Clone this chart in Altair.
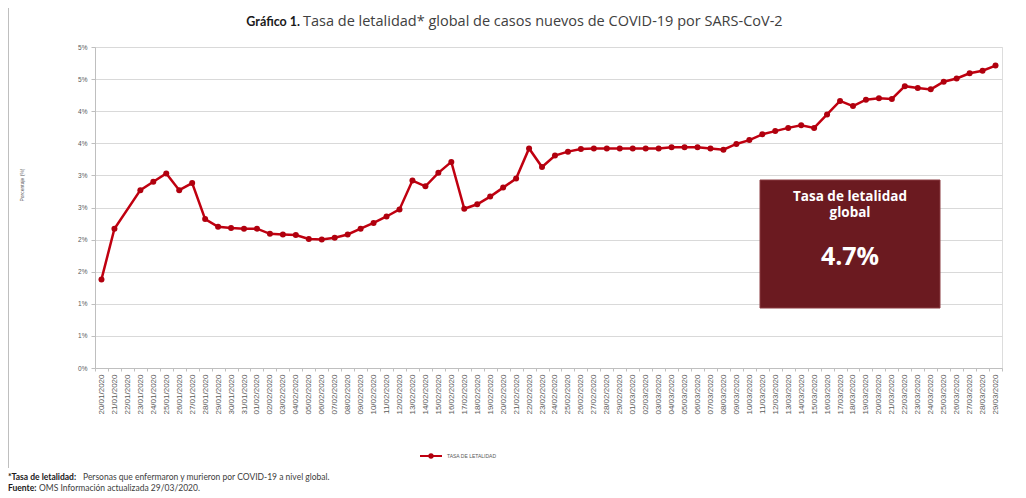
import altair as alt
import pandas as pd

fechas = [
    "20/01/2020", "21/01/2020", "22/01/2020", "23/01/2020", "24/01/2020", "25/01/2020",
    "26/01/2020", "27/01/2020", "28/01/2020", "29/01/2020", "30/01/2020", "31/01/2020",
    "01/02/2020", "02/02/2020", "03/02/2020", "04/02/2020", "05/02/2020", "06/02/2020",
    "07/02/2020", "08/02/2020", "09/02/2020", "10/02/2020", "11/02/2020", "12/02/2020",
    "13/02/2020", "14/02/2020", "15/02/2020", "16/02/2020", "17/02/2020", "18/02/2020",
    "19/02/2020", "20/02/2020", "21/02/2020", "22/02/2020", "23/02/2020", "24/02/2020",
    "25/02/2020", "26/02/2020", "27/02/2020", "28/02/2020", "29/02/2020", "01/03/2020",
    "02/03/2020", "03/03/2020", "04/03/2020", "05/03/2020", "06/03/2020", "07/03/2020",
    "08/03/2020", "09/03/2020", "10/03/2020", "11/03/2020", "12/03/2020", "13/03/2020",
    "14/03/2020", "15/03/2020", "16/03/2020", "17/03/2020", "18/03/2020", "19/03/2020",
    "20/03/2020", "21/03/2020", "22/03/2020", "23/03/2020", "24/03/2020", "25/03/2020",
    "26/03/2020", "27/03/2020", "28/03/2020", "29/03/2020",
]

tasa = [
    1.38, 2.17, None, 2.77, 2.90, 3.03, 2.77, 2.88, 2.32, 2.20,
    2.18, 2.17, 2.17, 2.09, 2.08, 2.07, 2.01, 2.00, 2.03, 2.08,
    2.17, 2.26, 2.36, 2.47, 2.92, 2.83, 3.04, 3.21, 2.48, 2.55,
    2.67, 2.81, 2.95, 3.42, 3.13, 3.31, 3.37, 3.41, 3.42, 3.42,
    3.42, 3.42, 3.42, 3.42, 3.44, 3.44, 3.44, 3.42, 3.40, 3.49,
    3.55, 3.64, 3.69, 3.74, 3.78, 3.74, 3.95, 4.16, 4.08, 4.18,
    4.20, 4.19, 4.39, 4.36, 4.34, 4.46, 4.51, 4.59, 4.63, 4.71,
]

y_ticks = [0, 0.5, 1, 1.5, 2, 2.5, 3, 3.5, 4, 4.5, 5]

titulo_negrita = "Gráfico 1."
titulo_resto = "Tasa de letalidad* global de casos nuevos de COVID-19 por SARS-CoV-2"
caja_linea1 = "Tasa de letalidad"
caja_linea2 = "global"
caja_valor = "4.7%"
leyenda = "TASA DE LETALIDAD"
eje_y = "Porcentaje (%)"
nota1_negrita = "*Tasa de letalidad:"
nota1_resto = "Personas que enfermaron y murieron por COVID-19 a nivel global."
nota2_negrita = "Fuente:"
nota2_resto = "OMS Información actualizada 29/03/2020."

RED = "#C00010"
MAROON = "#6B1A20"
GRAY = "#595959"

df = pd.DataFrame({"fecha": fechas, "tasa": tasa}).dropna()

W, H = 907, 321

x_enc = alt.X(
    "fecha:O",
    sort=fechas,
    scale=alt.Scale(domain=fechas, type="band", paddingInner=0, paddingOuter=0),
    axis=alt.Axis(
        title=None, labelAngle=270, labelFontSize=8, labelColor=GRAY,
        labelFont="Liberation Sans", tickBand="extent", tickSize=3,
        tickColor="#BFBFBF", domainColor="#BFBFBF", labelPadding=3, grid=False,
        labelOverlap=False,
    ),
)
y_enc = alt.Y(
    "tasa:Q",
    scale=alt.Scale(domain=[0, 5], nice=False),
    axis=alt.Axis(
        values=y_ticks, labelExpr="round(datum.value) + '%'", title=None,
        gridColor="#D9D9D9", domainColor="#BFBFBF", tickColor="#BFBFBF",
        tickSize=4, labelFontSize=6.5, labelColor=GRAY, labelPadding=4,
        labelFont="Liberation Sans",
    ),
)

base = alt.Chart(df)
line = base.mark_line(color=RED, strokeWidth=2.5).encode(x=x_enc, y=y_enc)
pts = base.mark_point(filled=True, size=36, color="#B0000E", opacity=1).encode(x=x_enc, y=y_enc)

one = pd.DataFrame({"k": [0]})

def txt(s, x, y, size, bold=False, color="#404040", align="left", font="Lato", angle=0):
    kw = dict(text=s, fontSize=size, color=color, align=align, baseline="middle", font=font,
              fontWeight="bold" if bold else "normal")
    if angle:
        kw["angle"] = angle
    return alt.Chart(one).mark_text(**kw).encode(x=alt.value(x), y=alt.value(y))

caja = alt.Chart(one).mark_rect(color=MAROON, stroke="#8a3a40", strokeWidth=1).encode(
    x=alt.value(665), x2=alt.value(845), y=alt.value(133), y2=alt.value(261)
)

marco = alt.Chart(one).mark_rule(color="#BFBFBF", strokeWidth=1).encode(
    x=alt.value(-86.5), y=alt.value(-47), y2=alt.value(421)
)

leg_line = alt.Chart(one).mark_rule(color=RED, strokeWidth=2).encode(
    x=alt.value(325), x2=alt.value(347), y=alt.value(409)
)
leg_pt = alt.Chart(one).mark_point(filled=True, size=28, color="#B0000E", opacity=1).encode(
    x=alt.value(336), y=alt.value(409)
)

layers = [
    marco, line, pts, caja,
    txt(caja_linea1, 755, 150, 13.5, True, "white", "center", "Open Sans"),
    txt(caja_linea2, 755, 166, 13.5, True, "white", "center", "Open Sans"),
    txt(caja_valor, 755, 210, 25, True, "white", "center", "Open Sans"),
    txt(titulo_negrita, 205, -25, 12.5, True, "#1a1a1a", "right"),
    txt(titulo_resto, 208, -25, 14.5, False, "#404040", "left", "Open Sans"),
    txt(eje_y, -73, 138, 5, False, GRAY, "center", "Liberation Sans", 270),
    leg_line, leg_pt,
    txt(leyenda, 352, 409, 5, False, GRAY, "left", "Liberation Sans"),
    txt(nota1_negrita, -87, 430, 8.5, True, "#1a1a1a", "left"),
    txt(nota1_resto, -12, 430, 8.5, False, "#404040", "left"),
    txt(nota2_negrita, -87, 441, 8.5, True, "#1a1a1a", "left"),
    txt(nota2_resto, -56, 441, 8.5, False, "#404040", "left"),
]

chart = alt.layer(*layers).properties(
    width=W, height=H,
    autosize=alt.AutoSizeParams(type="none"),
    padding={"left": 87, "top": 39, "right": 14, "bottom": 128},
).configure_view(stroke=None).configure(background="white")

chart.save("out.html", embed_options={"renderer": "svg", "actions": False})
